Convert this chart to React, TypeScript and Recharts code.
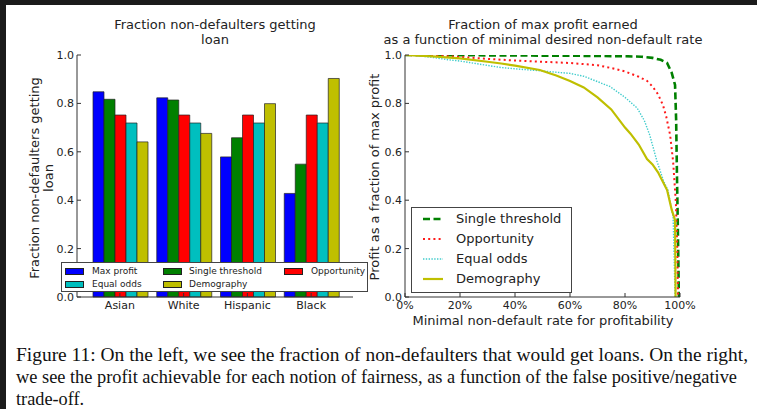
import React from 'react';
import { BarChart, Bar, XAxis, YAxis, LineChart, Line } from 'recharts';

// ---------- Left chart data ----------
const groups = ['Asian', 'White', 'Hispanic', 'Black'];
const maxProfit = [0.848, 0.823, 0.579, 0.428];
const singleThreshold = [0.817, 0.814, 0.658, 0.549];
const opportunity = [0.752, 0.752, 0.752, 0.752];
const equalOdds = [0.719, 0.719, 0.719, 0.719];
const demography = [0.641, 0.676, 0.799, 0.903];
const fractionTicks = [0, 0.2, 0.4, 0.6, 0.8, 1.0];

// ---------- Right chart data ----------
const thresholdX = [0, 20, 40, 60, 80, 86, 90, 93, 95.3, 97, 98.2, 98.6, 98.9, 99.2, 99.6];
const thresholdY = [1.0, 0.999, 0.998, 0.997, 0.995, 0.993, 0.988, 0.98, 0.967, 0.926, 0.876, 0.73, 0.5, 0.3, 0.0];
const opportunityX = [0, 10, 20, 30, 40, 50, 60, 70, 75, 80, 85, 88, 90, 92, 93.8, 95, 96.4, 97.5, 98.5, 99, 99.3];
const opportunityY = [1.0, 0.998, 0.992, 0.984, 0.977, 0.972, 0.967, 0.958, 0.946, 0.932, 0.91, 0.893, 0.87, 0.838, 0.793, 0.745, 0.67, 0.56, 0.39, 0.2, 0.0];
const equalOddsX = [0, 5, 10, 16, 20, 30, 35, 40, 50, 60, 65, 70, 74.5, 80, 84.4, 87, 89, 91.6, 94, 95.6, 97.5, 97.9, 98.2];
const equalOddsY = [1.0, 0.997, 0.99, 0.98, 0.975, 0.957, 0.948, 0.943, 0.934, 0.924, 0.912, 0.89, 0.87, 0.825, 0.781, 0.73, 0.669, 0.562, 0.48, 0.442, 0.33, 0.15, 0.0];
const demographyX = [0, 10, 20, 30, 35, 40, 49, 55, 60, 65, 70, 75, 80, 82, 85, 88, 90, 92, 95.3, 97, 98.2, 98.4];
const demographyY = [1.0, 0.994, 0.986, 0.972, 0.965, 0.956, 0.938, 0.915, 0.893, 0.866, 0.825, 0.775, 0.7, 0.675, 0.63, 0.57, 0.548, 0.515, 0.442, 0.36, 0.318, 0.0];
const rateTicks = [0, 20, 40, 60, 80, 100];
const profitTicks = [0, 0.2, 0.4, 0.6, 0.8, 1.0];

const captionLines = [
  'Figure 11: On the left, we see the fraction of non-defaulters that would get loans. On the right,',
  'we see the profit achievable for each notion of fairness, as a function of the false positive/negative',
  'trade-off.',
];
const captionWidths = [732, 721, undefined as number | undefined];

const barSeries = [
  { key: 'maxProfit', name: 'Max profit', color: '#0000ff', values: maxProfit },
  { key: 'singleThreshold', name: 'Single threshold', color: '#008000', values: singleThreshold },
  { key: 'opportunity', name: 'Opportunity', color: '#ff0000', values: opportunity },
  { key: 'equalOdds', name: 'Equal odds', color: '#00bfbf', values: equalOdds },
  { key: 'demography', name: 'Demography', color: '#bfbf00', values: demography },
];

const barData = groups.map((g, i) => {
  const row: Record<string, any> = { group: g };
  barSeries.forEach((s) => (row[s.key] = s.values[i]));
  return row;
});

const zip = (xs: number[], ys: number[]) => xs.map((x, i) => ({ x, y: ys[i] }));

const lineSeries = [
  { name: 'Single threshold', color: '#008000', width: 2.6, dash: '7 3.5', data: zip(thresholdX, thresholdY) },
  { name: 'Opportunity', color: '#ff1a1a', width: 2, dash: '2 3.2', data: zip(opportunityX, opportunityY) },
  { name: 'Equal odds', color: '#40cccc', width: 1.4, dash: '1.4 1.4', data: zip(equalOddsX, equalOddsY) },
  { name: 'Demography', color: '#bfbf00', width: 2.2, dash: undefined as string | undefined, data: zip(demographyX, demographyY) },
];

const FONT = '"DejaVu Sans", sans-serif';
const AXIS = '#333';
const TICK = { fontSize: 11, fill: '#222', fontFamily: FONT };

const abs = (left: number, top: number, extra: React.CSSProperties = {}): React.CSSProperties => ({
  position: 'absolute',
  left,
  top,
  ...extra,
});

function LeftLegend() {
  // column-major order, 3 columns
  const cols = [3, 101, 222];
  const rows = [4.5, 18];
  const textX = [30, 127, 249];
  const order = [0, 3, 1, 4, 2];
  return (
    <div style={abs(61, 262, { width: 307, height: 30, background: '#fff', border: '1px solid #444', boxSizing: 'border-box' })}>
      {order.map((si, idx) => {
        const c = Math.floor(idx / 2);
        const r = idx % 2;
        const s = barSeries[si];
        return (
          <React.Fragment key={s.key}>
            <div style={abs(cols[c], rows[r], { width: 19, height: 7, background: s.color, border: '0.7px solid #222', boxSizing: 'border-box' })} />
            <div style={abs(textX[c], rows[r] - 3, { fontSize: 9, lineHeight: '13px', fontFamily: FONT, color: '#222', whiteSpace: 'nowrap' })}>{s.name}</div>
          </React.Fragment>
        );
      })}
    </div>
  );
}

function RightLegend() {
  const ys = [11, 31, 51, 71];
  return (
    <div style={abs(411, 207, { width: 161, height: 86, background: '#fff', border: '1px solid #444', boxSizing: 'border-box' })}>
      {lineSeries.map((s, i) => (
        <React.Fragment key={s.name}>
          <svg style={abs(10, ys[i] - 4)} width={22} height={8}>
            <line x1={1} y1={4} x2={21} y2={4} stroke={s.color} strokeWidth={s.width} strokeDasharray={s.dash} />
          </svg>
          <div style={abs(44, ys[i] - 9, { fontSize: 13, lineHeight: '18px', fontFamily: FONT, color: '#222', whiteSpace: 'nowrap' })}>{s.name}</div>
        </React.Fragment>
      ))}
    </div>
  );
}

export default function App() {
  return (
    <div style={{ position: 'fixed', left: 0, top: 0, width: 757, height: 409, background: '#1b1b1b', overflow: 'hidden' }}>
      <div style={abs(6, 5, { width: 751, height: 404, background: '#fff' })} />

      {/* Left title */}
      <div style={abs(65, 18, { width: 300, textAlign: 'center', fontSize: 13, lineHeight: '14.5px', fontFamily: FONT, color: '#222' })}>
        Fraction non-defaulters getting<br />loan
      </div>
      {/* Left y label */}
      <div
        style={abs(41.5, 178, {
          transform: 'translate(-50%, -50%) rotate(-90deg)',
          textAlign: 'center',
          fontSize: 13,
          lineHeight: '14px',
          fontFamily: FONT,
          color: '#222',
          whiteSpace: 'nowrap',
        })}
      >
        Fraction non-defaulters getting<br />loan
      </div>

      <div style={abs(0, 0)}>
        <BarChart width={380} height={330} data={barData} margin={{ top: 55, right: 27, bottom: 13, left: 47 }} barCategoryGap={5} barGap={0}>
          <XAxis dataKey="group" padding={{ left: 11, right: 10 }} interval={0} height={20} tickSize={-4} tickMargin={8} axisLine={{ stroke: AXIS }} tickLine={{ stroke: AXIS }} tick={TICK} />
          <XAxis xAxisId="top" orientation="top" dataKey="group" padding={{ left: 11, right: 10 }} interval={0} height={0} tickSize={-4} axisLine={{ stroke: AXIS }} tickLine={{ stroke: AXIS }} tick={false} />
          <YAxis domain={[0, 1]} ticks={fractionTicks} tickFormatter={(v: number) => v.toFixed(1)} width={30} tickSize={-4} tickMargin={7} axisLine={{ stroke: AXIS }} tickLine={{ stroke: AXIS }} tick={TICK} />
          <YAxis yAxisId="right" orientation="right" domain={[0, 1]} ticks={fractionTicks} width={0} tickSize={-4} axisLine={{ stroke: AXIS }} tickLine={{ stroke: AXIS }} tick={false} />
          {barSeries.map((s) => (
            <Bar key={s.key} dataKey={s.key} name={s.name} fill={s.color} stroke="#222" strokeWidth={0.7} isAnimationActive={false} />
          ))}
        </BarChart>
      </div>
      <LeftLegend />

      {/* Right title */}
      <div style={abs(343, 18, { width: 400, textAlign: 'center', fontSize: 13, lineHeight: '14.5px', fontFamily: FONT, color: '#222' })}>
        Fraction of max profit earned<br />as a function of minimal desired non-default rate
      </div>
      {/* Right y label */}
      <div
        style={abs(375, 177, {
          transform: 'translate(-50%, -50%) rotate(-90deg)',
          fontSize: 13,
          lineHeight: '14px',
          fontFamily: FONT,
          color: '#222',
          whiteSpace: 'nowrap',
        })}
      >
        Profit as a fraction of max profit
      </div>

      <div style={abs(380, 0)}>
        <LineChart width={377} height={330} margin={{ top: 55, right: 77, bottom: 13, left: 0 }}>
          <XAxis type="number" dataKey="x" domain={[0, 100]} ticks={rateTicks} allowDataOverflow tickFormatter={(v: number) => `${v}%`} height={20} tickSize={-4} tickMargin={8} axisLine={{ stroke: AXIS }} tickLine={{ stroke: AXIS }} tick={TICK} />
          <XAxis xAxisId="top" orientation="top" type="number" dataKey="x" domain={[0, 100]} ticks={rateTicks} allowDataOverflow height={0} tickSize={-4} axisLine={{ stroke: AXIS }} tickLine={{ stroke: AXIS }} tick={false} />
          <YAxis type="number" domain={[0, 1]} ticks={profitTicks} allowDataOverflow tickFormatter={(v: number) => v.toFixed(1)} width={25} tickSize={-4} tickMargin={7} axisLine={{ stroke: AXIS }} tickLine={{ stroke: AXIS }} tick={TICK} />
          <YAxis yAxisId="right" orientation="right" type="number" domain={[0, 1]} ticks={profitTicks} allowDataOverflow width={0} tickSize={-4} axisLine={{ stroke: AXIS }} tickLine={{ stroke: AXIS }} tick={false} />
          {lineSeries.map((s) => (
            <Line
              key={s.name}
              data={s.data}
              dataKey="y"
              name={s.name}
              type="linear"
              stroke={s.color}
              strokeWidth={s.width}
              strokeDasharray={s.dash}
              dot={false}
              activeDot={false}
              isAnimationActive={false}
            />
          ))}
        </LineChart>
      </div>
      <RightLegend />

      {/* Right x label */}
      <div style={abs(343, 313, { width: 400, textAlign: 'center', fontSize: 13, lineHeight: '16px', fontFamily: FONT, color: '#222' })}>
        Minimal non-default rate for profitability
      </div>

      {/* Caption */}
      <svg style={abs(0, 340)} width={757} height={69}>
        {captionLines.map((l, i) => (
          <text
            key={l}
            x={16}
            y={20.5 + i * 22}
            fontSize={18.3}
            fontFamily='"Liberation Serif", serif'
            fill="#111"
            textLength={captionWidths[i]}
            lengthAdjust={captionWidths[i] ? 'spacingAndGlyphs' : undefined}
          >
            {l}
          </text>
        ))}
      </svg>
    </div>
  );
}
